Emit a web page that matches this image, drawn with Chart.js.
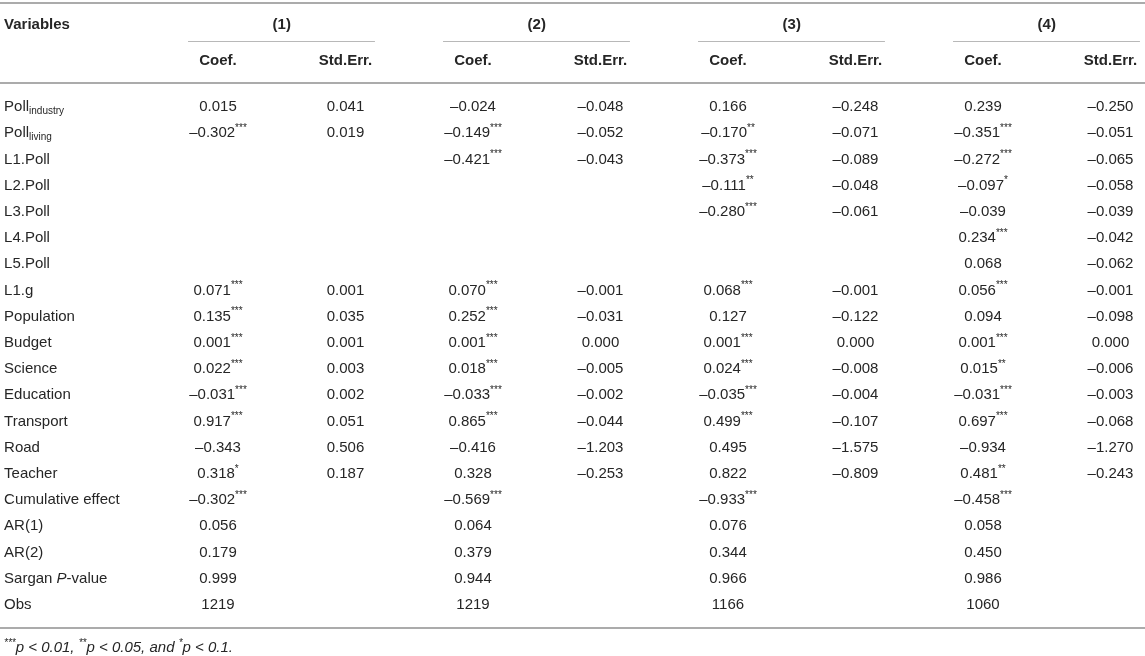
<!DOCTYPE html>
<html>
<head>
<meta charset="utf-8">
<script src="https://cdn.jsdelivr.net/npm/chart.js@4.4.1/dist/chart.umd.min.js"></script>
<style>
body { margin: 0; background: #fff; }
#tbl { display: block; }
</style>
</head>
<body>
<canvas id="tbl" width="1145" height="656"></canvas>
<script>
// row labels ("_" starts a subscript, "/P/" is italic)
var variables = ['Poll_industry', 'Poll_living', 'L1.Poll', 'L2.Poll', 'L3.Poll', 'L4.Poll', 'L5.Poll',
    'L1.g', 'Population', 'Budget', 'Science', 'Education', 'Transport', 'Road', 'Teacher',
    'Cumulative effect', 'AR(1)', 'AR(2)', 'Sargan /P/-value', 'Obs'];
var models = ['(1)', '(2)', '(3)', '(4)'];
var subHeads = ['Coef.', 'Std.Err.'];

// model (1)
var coef1 = ['0.015', '–0.302***', '', '', '', '', '', '0.071***', '0.135***', '0.001***', '0.022***',
    '–0.031***', '0.917***', '–0.343', '0.318*', '–0.302***', '0.056', '0.179', '0.999', '1219'];
var std1 = ['0.041', '0.019', '', '', '', '', '', '0.001', '0.035', '0.001', '0.003',
    '0.002', '0.051', '0.506', '0.187', '', '', '', '', ''];
// model (2)
var coef2 = ['–0.024', '–0.149***', '–0.421***', '', '', '', '', '0.070***', '0.252***', '0.001***', '0.018***',
    '–0.033***', '0.865***', '–0.416', '0.328', '–0.569***', '0.064', '0.379', '0.944', '1219'];
var std2 = ['–0.048', '–0.052', '–0.043', '', '', '', '', '–0.001', '–0.031', '0.000', '–0.005',
    '–0.002', '–0.044', '–1.203', '–0.253', '', '', '', '', ''];
// model (3)
var coef3 = ['0.166', '–0.170**', '–0.373***', '–0.111**', '–0.280***', '', '', '0.068***', '0.127', '0.001***', '0.024***',
    '–0.035***', '0.499***', '0.495', '0.822', '–0.933***', '0.076', '0.344', '0.966', '1166'];
var std3 = ['–0.248', '–0.071', '–0.089', '–0.048', '–0.061', '', '', '–0.001', '–0.122', '0.000', '–0.008',
    '–0.004', '–0.107', '–1.575', '–0.809', '', '', '', '', ''];
// model (4)
var coef4 = ['0.239', '–0.351***', '–0.272***', '–0.097*', '–0.039', '0.234***', '0.068', '0.056***', '0.094', '0.001***', '0.015**',
    '–0.031***', '0.697***', '–0.934', '0.481**', '–0.458***', '0.058', '0.450', '0.986', '1060'];
var std4 = ['–0.250', '–0.051', '–0.065', '–0.058', '–0.039', '–0.042', '–0.062', '–0.001', '–0.098', '0.000', '–0.006',
    '–0.003', '–0.068', '–1.270', '–0.243', '', '', '', '', ''];

var footnote = '***/p/ < 0.01, **/p/ < 0.05, and */p/ < 0.1.';

// layout in scale units: x = column number, y = row number
var LABEL_X = -0.678;
var HEAD1_Y = -3.13, HEAD2_Y = -1.76;
var TOP_RULE = -3.97, SPAN_RULE = -2.52, HEAD_RULE = -0.916, BOTTOM_RULE = 19.885, NOTE_Y = 20.65;
var TEXT = '#262626', RULE = '#ababab';
var FAMILY = '"Liberation Sans", Arial, Helvetica, sans-serif';

// split a cell string into styled pieces
function pieces(str) {
    var out = [];
    var m = str.match(/^(.*?)(\*+)$/);
    if (m && m[1].indexOf('/') < 0) { out.push({ t: m[1], k: 'n' }); out.push({ t: m[2], k: 'sup' }); return out; }
    if (str.indexOf('_') > 0) {
        var p = str.split('_');
        return [{ t: p[0], k: 'n' }, { t: p[1], k: 'sub' }];
    }
    // italic and star markup (footnote, Sargan)
    var re = /(\*+)|\/([^\/]+)\/|([^*\/]+)/g, r;
    while ((r = re.exec(str)) !== null) {
        if (r[1]) out.push({ t: r[1], k: 'sup' });
        else if (r[2]) out.push({ t: r[2], k: 'it' });
        else out.push({ t: r[3], k: 'n' });
    }
    return out;
}

function fontFor(k, bold, italicAll) {
    var it = (k === 'it' || italicAll) ? 'italic ' : '';
    var w = bold ? 'bold ' : '';
    var size = (k === 'sup' || k === 'sub') ? 10 : 15;
    return it + w + size + 'px ' + FAMILY;
}

function drawRich(ctx, str, x, y, align, bold, italicAll) {
    var segs = pieces(str), total = 0;
    segs.forEach(function (s) {
        ctx.font = fontFor(s.k, bold, italicAll);
        s.w = ctx.measureText(s.t).width;
        total += s.w;
    });
    var cx = align === 'center' ? x - total / 2 : x;
    ctx.textAlign = 'left';
    ctx.textBaseline = 'middle';
    ctx.fillStyle = TEXT;
    segs.forEach(function (s) {
        ctx.font = fontFor(s.k, bold, italicAll);
        var dy = s.k === 'sup' ? -5 : (s.k === 'sub' ? 4 : 0);
        ctx.fillText(s.t, cx, y + dy);
        cx += s.w;
    });
}

// build one dataset per table column
function cellSet(name, texts, xPos, yPos, opts) {
    var data = [], cells = [];
    texts.forEach(function (t, i) {
        if (t === '') return;
        data.push({ x: Array.isArray(xPos) ? xPos[i] : xPos, y: Array.isArray(yPos) ? yPos[i] : yPos });
        cells.push(t);
    });
    return Object.assign({ label: name, data: data, cells: cells, pointRadius: 0, pointHoverRadius: 0,
        showLine: false, align: 'center', bold: false, italicAll: false }, opts || {});
}

var rowIdx = variables.map(function (v, i) { return i; });
var valueCols = [coef1, std1, coef2, std2, coef3, std3, coef4, std4];

var datasets = [];
datasets.push(cellSet('Variables', ['Variables'], LABEL_X, HEAD1_Y, { align: 'left', bold: true }));
datasets.push(cellSet('models', models, models.map(function (m, i) { return 2 * i + 1.5; }), HEAD1_Y, { bold: true }));
models.forEach(function (m, i) {
    datasets.push(cellSet('sub' + i, subHeads, [2 * i + 1, 2 * i + 2], HEAD2_Y, { bold: true }));
});
datasets.push(cellSet('rows', variables, LABEL_X, rowIdx, { align: 'left' }));
valueCols.forEach(function (col, c) {
    datasets.push(cellSet('col' + c, col, c + 1, rowIdx));
});
datasets.push(cellSet('note', [footnote], LABEL_X, NOTE_Y, { align: 'left', italicAll: true }));

var tablePlugin = {
    id: 'tablePlugin',
    beforeDatasetsDraw: function (chart) {
        var ctx = chart.ctx, xs = chart.scales.x, ys = chart.scales.y, a = chart.chartArea;
        ctx.save();
        ctx.strokeStyle = RULE;
        function rule(y, x0, x1, w, col) {
            var py = Math.round(ys.getPixelForValue(y)) + (w % 2 ? 0.5 : 0);
            ctx.lineWidth = w;
            ctx.strokeStyle = col || RULE;
            ctx.beginPath();
            ctx.moveTo(x0, py);
            ctx.lineTo(x1, py);
            ctx.stroke();
        }
        rule(TOP_RULE, a.left, a.right, 2);
        rule(HEAD_RULE, a.left, a.right, 2);
        rule(BOTTOM_RULE, a.left, a.right, 2);
        models.forEach(function (m, i) {
            rule(SPAN_RULE, xs.getPixelForValue(2 * i + 0.765), xs.getPixelForValue(2 * i + 2.231), 1, '#b8b8b8');
        });
        ctx.restore();
    },
    afterDatasetsDraw: function (chart) {
        var ctx = chart.ctx;
        ctx.save();
        chart.data.datasets.forEach(function (ds, d) {
            var meta = chart.getDatasetMeta(d);
            meta.data.forEach(function (pt, i) {
                drawRich(ctx, ds.cells[i], pt.x, pt.y, ds.align, ds.bold, ds.italicAll);
            });
        });
        ctx.restore();
    }
};

new Chart(document.getElementById('tbl').getContext('2d'), {
    type: 'scatter',
    data: { datasets: datasets },
    options: {
        responsive: false,
        animation: false,
        layout: { padding: 0 },
        plugins: { legend: { display: false }, tooltip: { enabled: false } },
        scales: {
            x: { type: 'linear', display: false, min: -0.7098, max: 8.2706 },
            y: { type: 'linear', display: false, reverse: true, min: -4.084, max: 20.954 }
        }
    },
    plugins: [tablePlugin]
});
</script>
</body>
</html>
